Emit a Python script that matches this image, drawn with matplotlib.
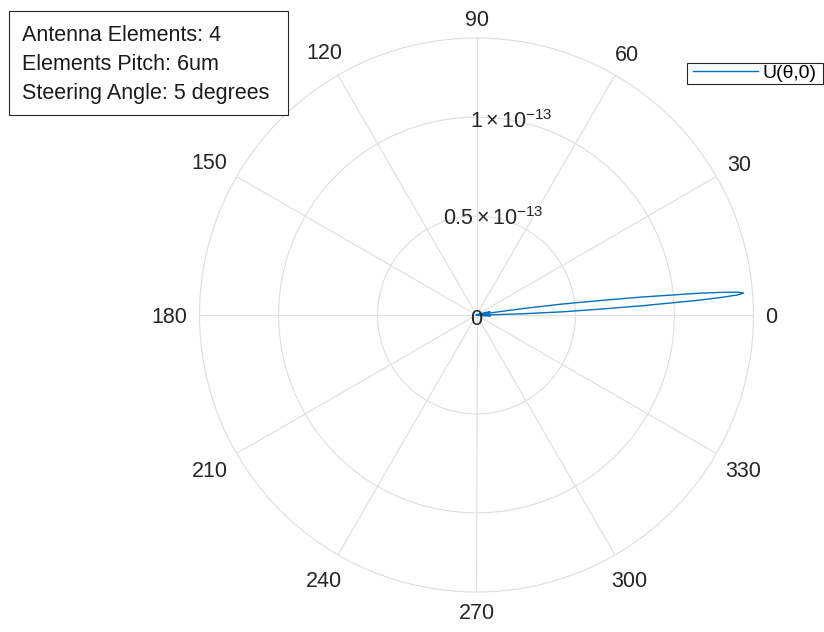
import numpy as np
import matplotlib
matplotlib.use('Agg')
import matplotlib.pyplot as plt
from matplotlib.patches import Rectangle

plt.rcParams['font.family'] = ['Liberation Sans', 'DejaVu Sans']
plt.rcParams['mathtext.fontset'] = 'custom'
plt.rcParams['mathtext.rm'] = 'Liberation Sans'
plt.rcParams['mathtext.it'] = 'Liberation Sans'

# ---- data (U in units of 1e-13) ----
theta_deg = [-8, -5.5, -3.5, -1.5, 0.4, 0.9, 1.5, 2.1, 2.7, 3.2, 3.6, 3.8, 4.1, 4.4, 4.7,
             5.0, 5.3, 5.6, 5.8, 6.2, 6.7, 7.3, 7.9, 8.5, 9.0, 11, 13, 15.5, 18]
u_vals = [0, 0.05, 0.07, 0.06, 0, 0.08, 0.23, 0.43, 0.62, 0.84, 1.01, 1.125, 1.238, 1.324, 1.355,
          1.324, 1.238, 1.125, 1.01, 0.84, 0.62, 0.43, 0.23, 0.08, 0, 0.06, 0.07, 0.05, 0]
r_max = 1.4
r_ticks = [0.5, 1.0]
r_tick_labels = [r'$\mathregular{0.5\times10^{-13}}$', r'$\mathregular{1\times10^{-13}}$']
theta_ticks = list(range(0, 360, 30))
theta_labels = [str(t) for t in theta_ticks]
legend_label = 'U(θ,0)'
info_lines = ['Antenna Elements: 4', 'Elements Pitch: 6um', 'Steering Angle: 5 degrees']

# ---- style ----
W, H = 824, 632
DPI = 100
grid_c = '#dedede'
txt_c = '#262626'
line_c = '#0072BD'
fs = 15.5
fs_px = fs * DPI / 72.0
px2pt = 72.0 / DPI

fig = plt.figure(figsize=(W / DPI, H / DPI), dpi=DPI)
cx, cy, R = 476.5, 315.0, 277.0
ax = fig.add_axes([(cx - R) / W, (H - cy - R) / H, 2 * R / W, 2 * R / H], projection='polar')

ax.plot(np.deg2rad(theta_deg), u_vals, color=line_c, lw=1.0, label=legend_label, zorder=3)

ax.set_rlim(0, r_max)
ax.set_rticks(r_ticks)
ax.set_yticklabels([])
ax.set_thetagrids(theta_ticks, labels=[''] * len(theta_ticks))
ax.grid(True, color=grid_c, lw=0.8)
ax.spines['polar'].set_color(grid_c)
ax.spines['polar'].set_linewidth(0.8)
ax.tick_params(axis='both', length=0)

# theta labels
g = 12.0
h = 0.716 * fs_px / 2
for t, lab in zip(theta_ticks, theta_labels):
    c, s = np.cos(np.deg2rad(t)), np.sin(np.deg2rad(t))
    w = len(lab) * 0.556 * fs_px / 2
    off = g + w * abs(c) + h * abs(s)
    ax.annotate(lab, xy=(np.deg2rad(t), r_max), xycoords='data',
                xytext=(off * c * px2pt, (off * s - h) * px2pt), textcoords='offset points',
                ha='center', va='baseline', fontsize=fs, color=txt_c, annotation_clip=False)

# r labels at 80 degrees
ax.annotate('0', xy=(0, 0), xytext=(0, -(h + 2) * px2pt), textcoords='offset points',
            ha='center', va='baseline', fontsize=fs, color=txt_c)
for rv, lab in zip(r_ticks, r_tick_labels):
    ax.annotate(lab, xy=(np.deg2rad(80), rv), xytext=(0, -h * px2pt), textcoords='offset points',
                ha='center', va='baseline', fontsize=fs, color=txt_c)

# legend (frame drawn separately to match box size)
leg = ax.legend(loc='center left', bbox_to_anchor=(693 / W, 1 - 73.5 / H),
                bbox_transform=fig.transFigure, fontsize=14, frameon=False,
                borderpad=0, handlelength=3.35, handletextpad=0.2, borderaxespad=0)
fig.add_artist(Rectangle((687 / W, 1 - 84 / H), 136 / W, 21 / H, transform=fig.transFigure,
                         facecolor='none', edgecolor=txt_c, lw=0.8, zorder=5))

# info box
fig.add_artist(Rectangle((9 / W, 1 - 115 / H), 279 / W, 104 / H, transform=fig.transFigure,
                         facecolor='white', edgecolor=txt_c, lw=0.8, zorder=5))
for yb, line in zip([41, 70, 98.5], info_lines):
    fig.text(22 / W, 1 - yb / H, line, fontsize=fs, color='#1a1a1a', ha='left',
             va='baseline', zorder=6)

fig.savefig('out.png', dpi=DPI, facecolor='white')
